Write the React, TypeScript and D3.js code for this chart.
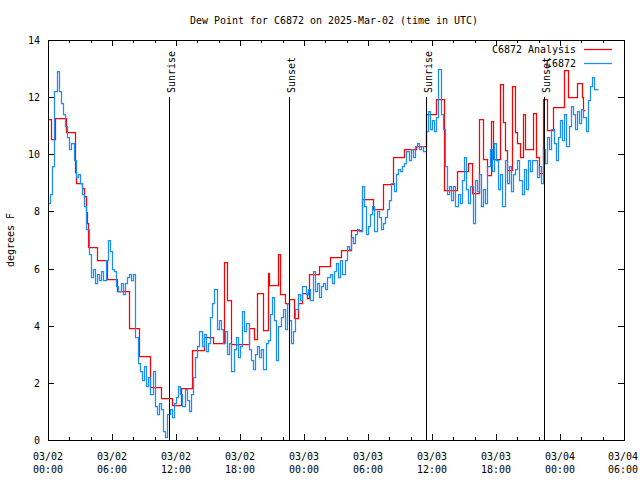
import React from "react";
import * as d3 from "d3";

const title = "Dew Point for C6872 on 2025-Mar-02 (time in UTC)";
const yLabel = "degrees F";
const seriesNames = ["C6872 Analysis", "C6872"];
const seriesColors = ["#ff0000", "#1a8cff"];

// x domain: hours since 2025-03-02 00:00 UTC
const xDomain = [0, 54];
const yDomain = [0, 14];
const xTickDates = ["03/02", "03/02", "03/02", "03/02", "03/03", "03/03", "03/03", "03/03", "03/04", "03/04"];
const xTickTimes = ["00:00", "06:00", "12:00", "18:00", "00:00", "06:00", "12:00", "18:00", "00:00", "06:00"];
const yTicks = [0, 2, 4, 6, 8, 10, 12, 14];

// analysis (step series): hour, value
const analysisHours = [
  0, 0.25, 0.66, 1.66, 2.53, 2.65, 3.22, 3.38, 3.53, 3.63, 3.72, 4.57, 5.5, 6.5, 7.55, 8.53, 9.56, 10.62,
  11.6, 12.5, 13.53, 14.63, 15.47, 16.5, 16.75, 17.16, 18.87, 19.34, 19.59, 20.2, 20.6, 20.75, 21.59, 21.75,
  22.25, 22.62, 23.09, 23.44, 23.78, 24.25, 24.5, 25.38, 26.44, 27.47, 28.41, 29.44, 30.44, 31.38, 32.37,
  33.4, 34.5, 35.41, 36.33, 37.17, 38.39, 39.38, 39.72, 40.43, 40.75, 41.13, 41.5, 41.69, 42.37, 42.68,
  42.84, 43.0, 43.47, 43.78, 43.94, 44.25, 44.5, 44.72, 45.5, 45.75, 46.03, 46.38, 46.75, 47.34, 48.33,
  48.78, 49.56, 50.03, 50.19, 50.39,
];
const analysisValues = [
  11.24, 10.52, 11.26, 10.79, 9.39, 8.98, 8.81, 8.54, 7.99, 7.59, 6.74, 6.3, 5.62, 5.21, 3.91, 2.94, 1.84, 1.46,
  1.22, 1.81, 3.15, 3.62, 3.38, 6.24, 4.9, 3.36, 3.91, 3.52, 5.13, 3.85, 5.86, 5.43, 6.5, 5.11,
  4.78, 4.92, 4.26, 4.78, 5.13, 4.96, 5.8, 6.09, 6.39, 6.65, 7.35, 8.42, 8.07, 8.96, 9.89,
  10.2, 10.29, 11.41, 11.92, 8.75, 9.4, 9.7, 8.65, 11.22, 9.85, 9.28, 11.18, 9.85, 12.45, 11.14,
  10.15, 9.45, 12.39, 10.79, 10.4, 9.92, 11.41, 10.2, 11.45, 9.9, 9.33, 11.95, 10.85, 11.65, 12.95,
  12.0, 12.5, 11.99, 11.55, 11.55,
];

// observations, one every 0.2 h from 00:00
const obsStepHours = 0.2;
const obsValues = [
  8.3, 8.6, 9.6, 12.2, 12.9, 12.2, 11.8, 11.4, 11.0, 10.6, 10.2, 10.4, 9.8, 9.2, 9.3, 9.0, 8.6, 8.2, 7.4, 6.5,
  5.7, 6.0, 5.5, 5.8, 5.6, 5.9, 5.6, 6.3, 7.0, 6.6, 6.0, 5.9, 5.4, 5.2, 5.5, 5.1, 5.5, 5.7, 5.8, 5.6,
  5.8, 3.6, 2.7, 2.4, 2.1, 2.6, 1.9, 2.2, 1.6, 2.4, 1.2, 0.9, 1.3, 1.1, 0.3, 0.1, 0.9, 1.1, 0.8, 1.3,
  1.5, 1.9, 1.6, 1.2, 1.8, 1.4, 1.0, 1.6, 2.2, 2.9, 3.3, 3.8, 3.3, 3.7, 3.1, 3.4, 4.3, 4.8, 5.3, 3.9,
  4.2, 3.9, 3.4, 3.8, 3.0, 3.4, 2.4, 3.2, 3.6, 2.9, 3.3, 4.5, 3.8, 4.1, 3.2, 2.8, 2.5, 3.0, 3.3, 2.9,
  3.2, 2.5, 3.4, 3.5, 4.4, 5.0, 4.2, 2.8, 4.0, 4.3, 4.6, 3.9, 4.8, 4.2, 3.4, 3.8, 4.6, 5.1, 4.9, 5.4,
  5.4, 5.1, 5.3, 4.9, 5.9, 5.2, 5.5, 5.0, 5.4, 5.5, 5.3, 5.7, 5.8, 5.5, 5.9, 6.2, 5.7, 6.3, 5.8, 6.3,
  6.8, 6.7, 7.1, 6.9, 7.2, 7.4, 7.3, 8.9, 8.2, 7.2, 7.5, 7.9, 8.2, 7.3, 8.0, 7.8, 7.4, 7.6, 7.8, 8.1,
  8.4, 9.0, 8.7, 9.3, 9.5, 9.4, 9.6, 9.7, 10.1, 9.8, 10.2, 9.9, 10.3, 10.4, 10.2, 10.3, 10.1, 10.8, 11.5, 10.9,
  11.2, 10.8, 11.3, 13.0, 11.4, 10.9, 9.6, 8.6, 8.9, 8.4, 8.9, 8.2, 8.6, 8.3, 9.1, 9.9, 8.8, 8.3, 8.9, 7.6,
  9.1, 8.7, 9.3, 8.2, 8.8, 8.3, 9.6, 10.2, 9.4, 10.4, 9.8, 8.8, 9.3, 8.2, 9.8, 9.0, 9.6, 8.7, 9.3, 9.5,
  9.8, 9.1, 8.6, 9.5, 8.8, 9.8, 9.4, 9.8, 9.8, 9.2, 9.6, 9.0, 10.2, 9.7, 10.6, 10.2, 10.9, 10.4, 9.8, 10.6,
  11.2, 10.5, 11.4, 10.3, 11.0, 11.7, 11.4, 10.9, 11.5, 11.1, 11.6, 11.3, 10.8, 11.9, 12.4, 12.7, 12.3, 12.3, 12.3,
];

// sun events (hours since 03/02 00:00 UTC)
const sunLabels = ["Sunrise", "Sunset", "Sunrise", "Sunset"];
const sunHours = [11.37, 22.62, 35.4, 46.5];
const sunLineTop = 12;

const FONT = "'DejaVu Sans Mono', 'Liberation Mono', monospace";
const CH = 6;

function T(props: any) {
  const { children, ...rest } = props;
  const s = String(children);
  return (
    <text
      fontFamily={FONT}
      fontSize={11}
      fill="#000"
      textLength={s.length * CH}
      lengthAdjust="spacingAndGlyphs"
      {...rest}
    >
      {s}
    </text>
  );
}

export default function App() {
  const W = 640;
  const H = 480;
  const left = 48, right = 624, top = 40, bottom = 440;
  const x = d3.scaleLinear().domain(xDomain).range([left, right]);
  const y = d3.scaleLinear().domain(yDomain).range([bottom, top]);
  const px = (v: number) => Math.round(v) + 0.5;

  const analysis = analysisHours.map((h, i) => [h, analysisValues[i]] as [number, number]);
  const obs = obsValues.map((v, i) => [i * obsStepHours, v] as [number, number]);

  const line = d3
    .line<[number, number]>()
    .x((d) => px(x(d[0])))
    .y((d) => px(y(d[1])))
    .curve(d3.curveStepAfter);

  const majorX = xTickDates.map((_, i) => i * 6);
  const minorX = d3.range(0, 54, 2).filter((h) => h % 6 !== 0);
  const LW = 1.25;

  return (
    <svg
      width={W}
      height={H}
      style={{ position: "absolute", left: 0, top: 0, background: "#fff" }}
    >
      <rect x={0} y={0} width={W} height={H} fill="#fff" />
      <T x={334} y={24} textAnchor="middle">{title}</T>

      {/* data */}
      <g>
        <path d={line(analysis) || ""} fill="none" stroke={seriesColors[0]} strokeWidth={LW} strokeLinejoin="miter" />
        <path d={line(obs) || ""} fill="none" stroke={seriesColors[1]} strokeWidth={LW} strokeLinejoin="miter" />
      </g>

      {/* sunrise / sunset */}
      {sunHours.map((h, i) => (
        <g key={"sun" + i}>
          <line
            x1={px(x(h))}
            x2={px(x(h))}
            y1={Math.round(y(sunLineTop))}
            y2={bottom}
            stroke="#000"
            strokeWidth={1}
          />
          <T transform={`translate(${Math.round(x(h)) + 5.5},93) rotate(-90)`} textAnchor="start">
            {sunLabels[i]}
          </T>
        </g>
      ))}

      {/* frame + ticks */}
      <g stroke="#000" strokeWidth={1}>
        <rect x={left + 0.5} y={top + 0.5} width={right - left} height={bottom - top} fill="none" />
        {majorX.map((h) => (
          <g key={"mx" + h}>
            <line x1={px(x(h))} x2={px(x(h))} y1={bottom} y2={bottom - 6} />
            <line x1={px(x(h))} x2={px(x(h))} y1={top} y2={top + 6} />
          </g>
        ))}
        {minorX.map((h) => (
          <g key={"nx" + h}>
            <line x1={px(x(h))} x2={px(x(h))} y1={bottom} y2={bottom - 3} />
            <line x1={px(x(h))} x2={px(x(h))} y1={top} y2={top + 3} />
          </g>
        ))}
        {yTicks.map((v) => (
          <g key={"yt" + v}>
            <line x1={left} x2={left + 6} y1={px(y(v))} y2={px(y(v))} />
            <line x1={right} x2={right - 6} y1={px(y(v))} y2={px(y(v))} />
          </g>
        ))}
      </g>

      {/* tick labels */}
      {yTicks.map((v) => (
        <T key={"yl" + v} x={40} y={y(v) + 4} textAnchor="end">
          {String(v)}
        </T>
      ))}
      {majorX.map((h, i) => (
        <g key={"xl" + h}>
          <T x={Math.min(x(h), 623)} y={460} textAnchor="middle">{xTickDates[i]}</T>
          <T x={Math.min(x(h), 623)} y={473} textAnchor="middle">{xTickTimes[i]}</T>
        </g>
      ))}

      <T transform="translate(14,240) rotate(-90)" textAnchor="middle">{yLabel}</T>

      {/* legend */}
      {seriesNames.map((name, i) => (
        <g key={"lg" + i}>
          <T x={576} y={53 + i * 14} textAnchor="end">{name}</T>
          <line
            x1={584}
            x2={612}
            y1={49.5 + i * 14}
            y2={49.5 + i * 14}
            stroke={seriesColors[i]}
            strokeWidth={LW}
          />
        </g>
      ))}
    </svg>
  );
}
